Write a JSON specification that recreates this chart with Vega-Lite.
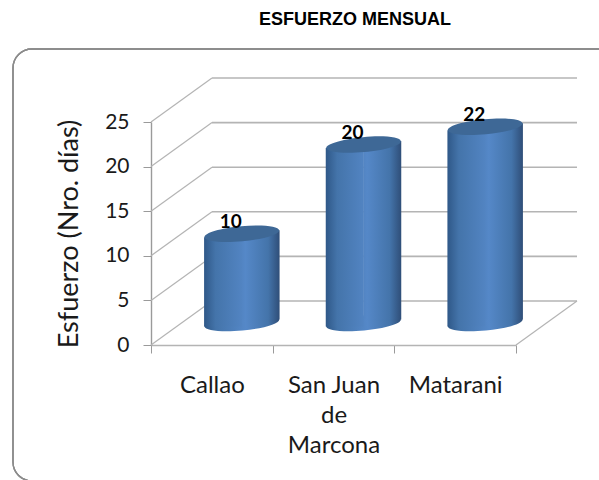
{
"$schema":"https://vega.github.io/schema/vega-lite/v6.json",
"width":365,"height":223,
"autosize":"none",
"padding":{"left":151,"top":122,"right":83,"bottom":135},
"background":"white",
"view":{"stroke":null},
"title":{"text":"ESFUERZO MENSUAL","anchor":"middle","frame":"group","dx":21.5,"offset":19,"font":"Liberation Sans","fontSize":18,"fontWeight":"bold","color":"#000000"},
"datasets":{
"bars":[{"category":"Callao","value":10},{"category":"San Juan de Marcona","value":20},{"category":"Matarani","value":22}],
"ticks":[{"tick":0},{"tick":5},{"tick":10},{"tick":15},{"tick":20},{"tick":25}]
},
"data":{"name":"bars"},
"resolve":{"scale":{"x":"independent"},"axis":{"x":"independent","y":"independent"}},
"layer":[
{"mark":{"type":"rect","fill":null,"stroke":"#8c8c8c","strokeWidth":1.3,"cornerRadius":19,"xOffset":-138,"x2Offset":130,"yOffset":-73,"y2Offset":136},
 "encoding":{"x":{"datum":0,"type":"quantitative","scale":{"domain":[0,3]},"axis":null},"x2":{"datum":3},"y":{"datum":25,"type":"quantitative","scale":{"domain":[0,25]},"axis":null},"y2":{"datum":0}}},
{"data":{"name":"ticks"},"mark":{"type":"rule","color":"#b4b4b4","strokeWidth":1.6,"xOffset":61,"x2Offset":61,"yOffset":-44,"y2Offset":-44},
 "encoding":{"x":{"datum":0,"type":"quantitative","scale":{"domain":[0,3]},"axis":null},"x2":{"datum":3},"y":{"field":"tick","type":"quantitative","scale":{"domain":[0,25]},"axis":null},"y2":{"field":"tick"}}},
{"data":{"name":"ticks"},"mark":{"type":"rule","color":"#b4b4b4","strokeWidth":1.2,"x2Offset":61,"y2Offset":-44},
 "encoding":{"x":{"datum":0,"type":"quantitative","scale":{"domain":[0,3]},"axis":null},"x2":{"datum":0},"y":{"field":"tick","type":"quantitative","scale":{"domain":[0,25]},"axis":null},"y2":{"field":"tick"}}},
{"data":{"values":[{"tick":0}]},"mark":{"type":"rule","color":"#b4b4b4","strokeWidth":1.2,"x2Offset":61,"y2Offset":-44},
 "encoding":{"x":{"datum":3,"type":"quantitative","scale":{"domain":[0,3]},"axis":null},"x2":{"datum":3},"y":{"field":"tick","type":"quantitative","scale":{"domain":[0,25]},"axis":null},"y2":{"field":"tick"}}},
{"mark":{"type":"point","filled":true,"shape":"M-1,0A1,0.2,0,1,1,1,0A1,0.2,0,1,1,-1,0Z","size":5625,"angle":-5.3,"opacity":1,"xOffset":30,"yOffset":-22,
  "fill":{"gradient":"linear","x1":0,"x2":1,"y1":0,"y2":0,"stops":[{"offset":0,"color":"#2f5888"},{"offset":0.15,"color":"#4474aa"},{"offset":0.55,"color":"#5588c8"},{"offset":0.85,"color":"#4474aa"},{"offset":1,"color":"#2f4e78"}]}},
 "encoding":{"x":{"field":"category","type":"nominal","sort":null,"scale":{"type":"band","paddingInner":0,"paddingOuter":0},
   "axis":{"title":null,"domain":true,"domainColor":"#b4b4b4","domainWidth":1.6,"ticks":true,"tickColor":"#9a9a9a","tickBand":"extent","tickSize":8,"labelAngle":0,"labelFont":"Lato","labelFontSize":24,"labelColor":"#1a1a1a","labelPadding":20,"labelLineHeight":30,"labelBaseline":"top","labelLimit":0,"grid":false,
     "labelExpr":"datum.label == 'San Juan de Marcona' ? ['San Juan','de','Marcona'] : datum.label"}},
  "y":{"datum":0,"type":"quantitative","scale":{"domain":[0,25]},
   "axis":{"title":"Esfuerzo (Nro. días)","titleFont":"Lato","titleFontSize":27,"titleFontWeight":"normal","titleColor":"#1a1a1a","titlePadding":21,"values":[0,5,10,15,20,25],"domainColor":"#9a9a9a","domainWidth":1.4,"tickColor":"#9a9a9a","tickSize":8,"labelFont":"Lato","labelFontSize":21,"labelColor":"#1a1a1a","labelPadding":14,"grid":false}}}},
{"mark":{"type":"bar","width":38,"xOffset":11.25,"yOffset":-18.5,"y2Offset":-18.5,
  "fill":{"gradient":"linear","x1":0,"x2":1,"y1":0,"y2":0,"stops":[{"offset":0,"color":"#2f5888"},{"offset":0.3,"color":"#4474aa"},{"offset":1,"color":"#5284c2"}]}},
 "encoding":{"x":{"field":"category","type":"nominal","sort":null,"scale":{"type":"band","paddingInner":0,"paddingOuter":0},"axis":null},"y":{"field":"value","type":"quantitative","stack":null,"scale":{"domain":[0,25]},"axis":null},"y2":{"datum":0}}},
{"mark":{"type":"bar","width":38,"xOffset":48.75,"yOffset":-25.5,"y2Offset":-25.5,
  "fill":{"gradient":"linear","x1":0,"x2":1,"y1":0,"y2":0,"stops":[{"offset":0,"color":"#5284c2"},{"offset":0.1,"color":"#5588c8"},{"offset":0.7,"color":"#4474aa"},{"offset":1,"color":"#2f4e78"}]}},
 "encoding":{"x":{"field":"category","type":"nominal","sort":null,"scale":{"type":"band","paddingInner":0,"paddingOuter":0},"axis":null},"y":{"field":"value","type":"quantitative","stack":null,"scale":{"domain":[0,25]},"axis":null},"y2":{"datum":0}}},
{"mark":{"type":"point","filled":true,"opacity":1,"shape":"M-1,0A1,0.2,0,1,1,1,0A1,0.2,0,1,1,-1,0Z","size":5625,"angle":-5.3,"xOffset":30,"yOffset":-22,"fill":"#3e6896"},
 "encoding":{"x":{"field":"category","type":"nominal","sort":null,"scale":{"type":"band","paddingInner":0,"paddingOuter":0},"axis":null},"y":{"field":"value","type":"quantitative","scale":{"domain":[0,25]},"axis":null}}},
{"mark":{"type":"text","font":"Lato","fontWeight":"bold","fontSize":19,"color":"#000000","xOffset":19,"yOffset":-34},
 "encoding":{"x":{"field":"category","type":"nominal","sort":null,"scale":{"type":"band","paddingInner":0,"paddingOuter":0},"axis":null},"y":{"field":"value","type":"quantitative","scale":{"domain":[0,25]},"axis":null},"text":{"field":"value","type":"quantitative"}}}
]
}
